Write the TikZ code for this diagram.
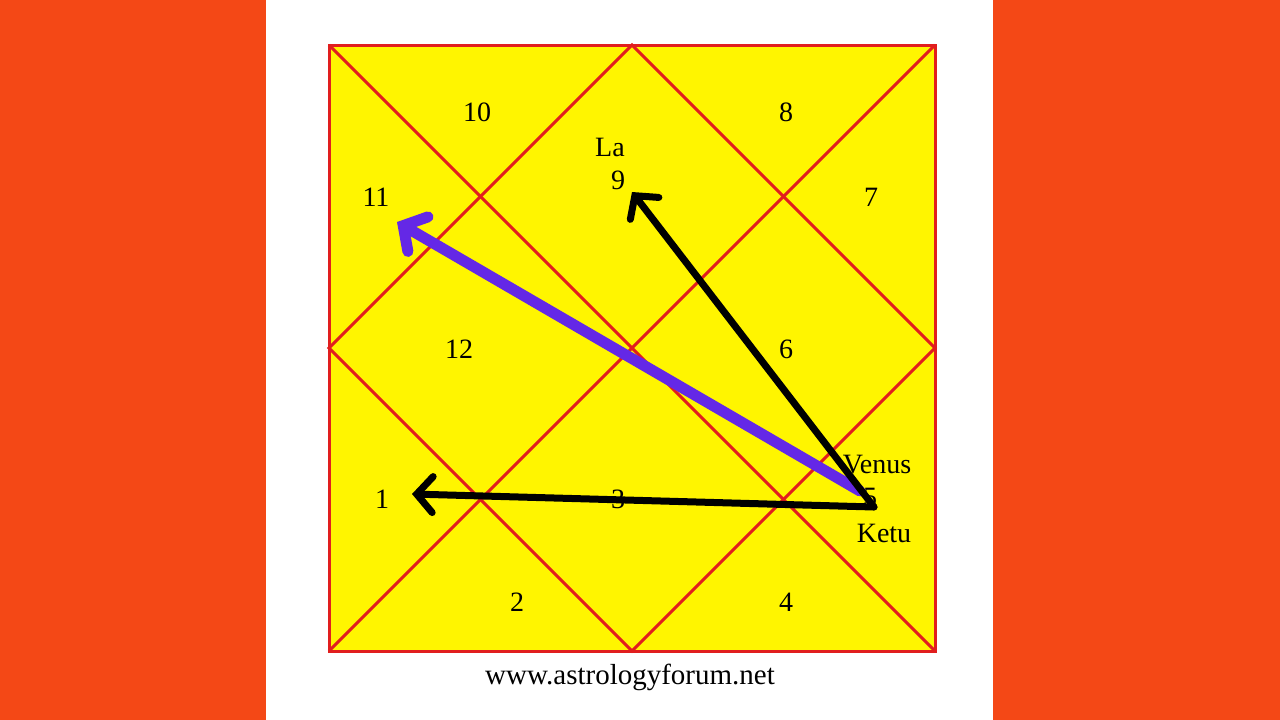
\documentclass[tikz,border=0pt]{standalone}
\usepackage{fontspec}
\setmainfont{Liberation Serif}
\usetikzlibrary{arrows.meta}
\definecolor{bgorange}{RGB}{244,72,22}
\definecolor{chartyellow}{RGB}{255,245,0}
\definecolor{chartred}{RGB}{225,30,30}
\definecolor{arrowpurple}{RGB}{100,40,230}
\tikzset{
  lbl/.style={font=\fontsize{28}{28}\selectfont, inner sep=0pt},
  redline/.style={draw=chartred, line width=3pt},
  blackarrow/.style={draw=black, line width=7pt, line cap=round, -{Straight Barb[length=16pt,width=36pt,line cap=round]}},
  purplearrow/.style={draw=arrowpurple, line width=11pt, line cap=round, -{Straight Barb[length=17pt,width=40pt,line cap=round]}},
}
\begin{document}
\begin{tikzpicture}[x=1pt,y=-1pt]
\useasboundingbox (0,0) rectangle (1280,720);
\fill[bgorange] (0,0) rectangle (1280,720);
\fill[white] (266,0) rectangle (993,720);
% chart square
\coordinate (tl) at (329,45);
\coordinate (tr) at (935,45);
\coordinate (br) at (935,651);
\coordinate (bl) at (329,651);
\coordinate (mt) at (632,45);
\coordinate (mr) at (935,348);
\coordinate (mb) at (632,651);
\coordinate (ml) at (329,348);
\fill[chartyellow] (tl) rectangle (br);
\draw[redline] (tl) -- (br);
\draw[redline] (tr) -- (bl);
\draw[redline] (mt) -- (mr) -- (mb) -- (ml) -- cycle;
\draw[redline] (tl) rectangle (br);
% labels
\node[lbl] (h10) at (477,112) {10};
\node[lbl] (h8) at (786,112) {8};
\node[lbl] (la) at (610,147) {La};
\node[lbl] (h9) at (618,180) {9};
\node[lbl] (h11) at (376,197) {11};
\node[lbl] (h7) at (871,197) {7};
\node[lbl] (h12) at (459,349) {12};
\node[lbl] (h6) at (786,349) {6};
\node[lbl] (h1) at (382,499) {1};
\node[lbl] (h3) at (618,499) {3};
\node[lbl] (h5) at (870,497) {5};
\node[lbl] (venus) at (877,465) {Venus};
\node[lbl] (ketu) at (884,533) {Ketu};
\node[lbl] (h2) at (517,602) {2};
\node[lbl] (h4) at (786,602) {4};
\node[font=\fontsize{29}{29}\selectfont, inner sep=0pt] (site) at (630,677) {www.astrologyforum.net};
% arrows
\coordinate (s1) at (874,507);
\coordinate (s2) at (860,491);
\coordinate (e1) at (412,494);
\coordinate (e9) at (632,192);
\coordinate (e11) at (397,222);
\draw[purplearrow] (s2) -- (e11);
\draw[blackarrow] (s1) -- (e9);
\draw[blackarrow] (s1) -- (e1);
\end{tikzpicture}
\end{document}
